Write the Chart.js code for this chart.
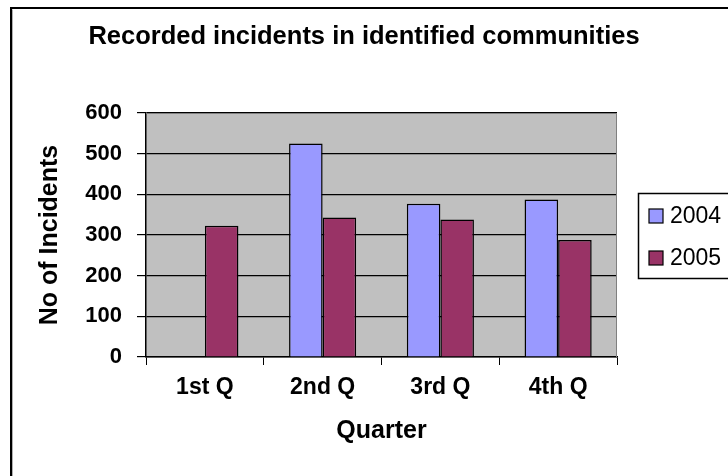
<!DOCTYPE html>
<html>
<head>
<meta charset="utf-8">
<script src="https://cdn.jsdelivr.net/npm/chart.js@4/dist/chart.umd.min.js"></script>
<style>
  html, body { margin: 0; padding: 0; background: #fff; }
  #wrap { position: relative; width: 728px; height: 476px; }
</style>
</head>
<body>
<div id="wrap"><canvas id="c" width="728" height="476"></canvas></div>
<script>
const categories = ["1st Q", "2nd Q", "3rd Q", "4th Q"];
const seriesNames = ["2004", "2005"];
const values2004 = [null, 525, 377, 387];
const values2005 = [323, 343, 338, 288];
const yTicks = [0, 100, 200, 300, 400, 500, 600];
const titleText = "Recorded incidents in identified communities";
const xTitle = "Quarter";
const yTitle = "No of Incidents";
const colors = ["#9999FF", "#993366"];

const FONT = "'Liberation Sans', Arial, sans-serif";

const plotBg = {
  id: 'plotBg',
  beforeDraw(chart) {
    const {ctx, chartArea: a} = chart;
    ctx.save();
    ctx.fillStyle = '#fff';
    ctx.fillRect(0, 0, chart.width, chart.height);
    ctx.fillStyle = '#C0C0C0';
    ctx.fillRect(a.left, a.top, a.right - a.left, a.bottom - a.top);
    ctx.restore();
  },
  afterDatasetsDraw(chart) {
    const {ctx, chartArea: a} = chart;
    ctx.save();
    ctx.strokeStyle = '#808080';
    ctx.lineWidth = 1;
    ctx.beginPath();
    ctx.moveTo(a.left, a.top + 0.5);
    ctx.lineTo(a.right - 0.5, a.top + 0.5);
    ctx.lineTo(a.right - 0.5, a.bottom);
    ctx.stroke();
    ctx.restore();
  },
  afterDraw(chart) {
    const {ctx} = chart;
    ctx.save();
    // chart title
    ctx.fillStyle = '#000';
    ctx.font = "bold 25.5px " + FONT;
    ctx.textAlign = 'center';
    ctx.textBaseline = 'middle';
    ctx.fillText(titleText, chart.width / 2, 37);
    // outer frame (top & left visible)
    ctx.strokeStyle = '#000';
    ctx.lineWidth = 2;
    ctx.beginPath();
    ctx.moveTo(11, chart.height + 2);
    ctx.lineTo(11, 8);
    ctx.lineTo(chart.width + 2, 8);
    ctx.stroke();
    ctx.strokeStyle = '#b0b0b0';
    ctx.lineWidth = 1;
    ctx.beginPath();
    ctx.moveTo(12.5, chart.height);
    ctx.lineTo(12.5, 9.5);
    ctx.stroke();
    // legend
    const lx = 638, ly = 193, lh = 85;
    ctx.strokeStyle = '#000';
    ctx.lineWidth = 1.5;
    ctx.strokeRect(lx + 0.5, ly + 0.5, chart.width, lh);
    ctx.font = "23px " + FONT;
    ctx.textBaseline = 'middle';
    ctx.textAlign = 'left';
    chart.data.datasets.forEach((ds, i) => {
      const cy = 216 + i * 42;
      ctx.fillStyle = ds.backgroundColor;
      ctx.fillRect(649, cy - 7, 14, 14);
      ctx.lineWidth = 1.2;
      ctx.strokeStyle = '#000';
      ctx.strokeRect(649, cy - 7, 14, 14);
      ctx.fillStyle = '#000';
      ctx.fillText(ds.label, 670, cy + 1);
    });
    ctx.restore();
  }
};

new Chart(document.getElementById('c'), {
  type: 'bar',
  data: {
    labels: categories,
    datasets: [
      { label: seriesNames[0], data: values2004, backgroundColor: colors[0], borderColor: '#000', borderWidth: 1.5, borderSkipped: 'bottom' },
      { label: seriesNames[1], data: values2005, backgroundColor: colors[1], borderColor: '#000', borderWidth: 1.5, borderSkipped: 'bottom' }
    ]
  },
  options: {
    responsive: false,
    animation: false,
    devicePixelRatio: 1,
    layout: { padding: { left: 0, right: 111, top: 113, bottom: 0 } },
    datasets: { bar: { categoryPercentage: 0.57, barPercentage: 1.0 } },
    plugins: {
      legend: { display: false },
      tooltip: { enabled: false },
      title: { display: false }
    },
    scales: {
      x: {
        afterFit(scale) { scale.height = 119; },
        grid: { offset: true, drawOnChartArea: false, drawTicks: true, tickLength: 8, color: '#000', lineWidth: 1 },
        border: { color: '#000', width: 1.5 },
        ticks: { color: '#000', padding: 9, font: { family: FONT, size: 23, weight: 'bold' } },
        title: { display: true, text: xTitle, color: '#000', font: { family: FONT, size: 25, weight: 'bold' }, padding: { top: 0, bottom: 30 } }
      },
      y: {
        min: yTicks[0],
        max: yTicks[yTicks.length - 1],
        afterFit(scale) { scale.width = 146; },
        afterBuildTicks(scale) { scale.ticks = yTicks.map(v => ({ value: v })); },
        grid: { drawTicks: true, tickLength: 9, color: '#000', lineWidth: 1.2 },
        border: { color: '#000', width: 1.5 },
        ticks: { color: '#000', padding: 15, font: { family: FONT, size: 22, weight: 'bold' } },
        title: { display: true, text: yTitle, color: '#000', font: { family: FONT, size: 25, weight: 'bold' }, padding: { top: 35, bottom: 0 } }
      }
    }
  },
  plugins: [plotBg]
});
</script>
</body>
</html>
